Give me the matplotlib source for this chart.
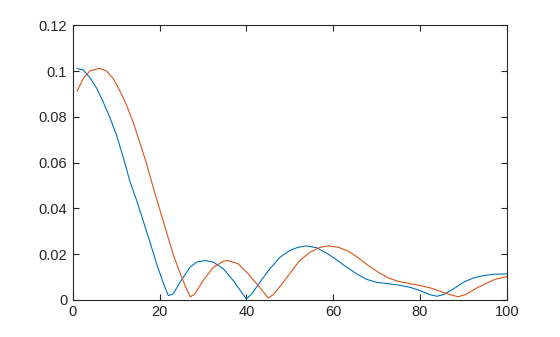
import matplotlib
matplotlib.use("Agg")
import matplotlib.pyplot as plt

# blue curve
x_blue = [1.0, 2.4, 3.9, 5.5, 7.0, 8.5, 10.1, 11.6, 13.1, 14.7, 16.2, 17.8, 19.3, 20.8, 22.0,
          23.1, 24.7, 27.0, 28.5, 30.4, 32.4, 34.7, 37.0, 38.9, 40.0, 41.2, 43.1, 45.4, 47.7,
          50.0, 51.9, 53.9, 56.2, 58.5, 60.8, 63.1, 65.4, 67.7, 70.0, 73.1, 75.4, 77.7, 80.0,
          82.3, 83.9, 85.4, 87.7, 90.0, 92.3, 94.6, 96.9, 100.0]
y_blue = [0.1011, 0.1005, 0.0972, 0.0925, 0.0865, 0.0799, 0.0719, 0.0624, 0.0522, 0.0435,
          0.0347, 0.0252, 0.0158, 0.0077, 0.0019, 0.0026, 0.0077, 0.0143, 0.0165, 0.0172,
          0.0165, 0.0136, 0.0084, 0.0033, 0.0004, 0.0026, 0.0077, 0.0136, 0.0186, 0.0216,
          0.0230, 0.0236, 0.0228, 0.0204, 0.0175, 0.0143, 0.0114, 0.0090, 0.0077, 0.0070,
          0.0064, 0.0055, 0.0041, 0.0023, 0.0016, 0.0023, 0.0048, 0.0077, 0.0096, 0.0106,
          0.0112, 0.0114]

# orange curve
x_orange = [1.0, 2.4, 3.9, 6.1, 7.8, 9.3, 10.8, 12.4, 13.9, 15.4, 17.0, 18.5, 20.1, 21.6,
            23.1, 24.7, 26.2, 27.1, 28.1, 30.0, 32.4, 34.7, 35.8, 38.1, 40.4, 42.7, 44.3,
            45.0, 46.2, 48.5, 50.8, 52.3, 54.6, 57.0, 58.9, 61.2, 63.5, 65.8, 68.1, 70.4,
            72.7, 75.0, 77.5, 80.0, 82.3, 84.6, 86.9, 88.8, 90.4, 92.7, 95.0, 97.3, 100.0]
y_orange = [0.0913, 0.0967, 0.1000, 0.1012, 0.1000, 0.0967, 0.0916, 0.0850, 0.0777, 0.0690,
            0.0595, 0.0493, 0.0391, 0.0296, 0.0201, 0.0118, 0.0048, 0.0014, 0.0026, 0.0084,
            0.0143, 0.0169, 0.0172, 0.0158, 0.0114, 0.0063, 0.0026, 0.0009, 0.0023, 0.0077,
            0.0136, 0.0172, 0.0208, 0.0230, 0.0236, 0.0230, 0.0213, 0.0184, 0.0150, 0.0121,
            0.0096, 0.0081, 0.0072, 0.0063, 0.0053, 0.0038, 0.0023, 0.0014, 0.0023, 0.0048,
            0.0070, 0.0090, 0.0102]

x_ticks = [0, 20, 40, 60, 80, 100]
y_ticks = [0, 0.02, 0.04, 0.06, 0.08, 0.1, 0.12]
y_labels = ['0', '0.02', '0.04', '0.06', '0.08', '0.1', '0.12']

plt.rcParams['font.family'] = ['Liberation Sans', 'DejaVu Sans']

fig = plt.figure(figsize=(5.6, 3.37), dpi=100)
ax = fig.add_axes([0.13, 0.11, 0.775, 0.815])

ax.plot(x_blue, y_blue, color='#0072BD', lw=0.8)
ax.plot(x_orange, y_orange, color='#D95319', lw=0.8)

ax.set_xlim(0, 100)
ax.set_ylim(0, 0.12)
ax.set_xticks(x_ticks)
ax.set_xticklabels([str(t) for t in x_ticks])
ax.set_yticks(y_ticks)
ax.set_yticklabels(y_labels)
ax.tick_params(direction='in', length=4, width=0.8, top=True, right=True,
               labelsize=10.5, colors='#262626', pad=4)
for s in ax.spines.values():
    s.set_linewidth(0.8)
    s.set_color('#262626')

fig.savefig('out.png', dpi=100)
